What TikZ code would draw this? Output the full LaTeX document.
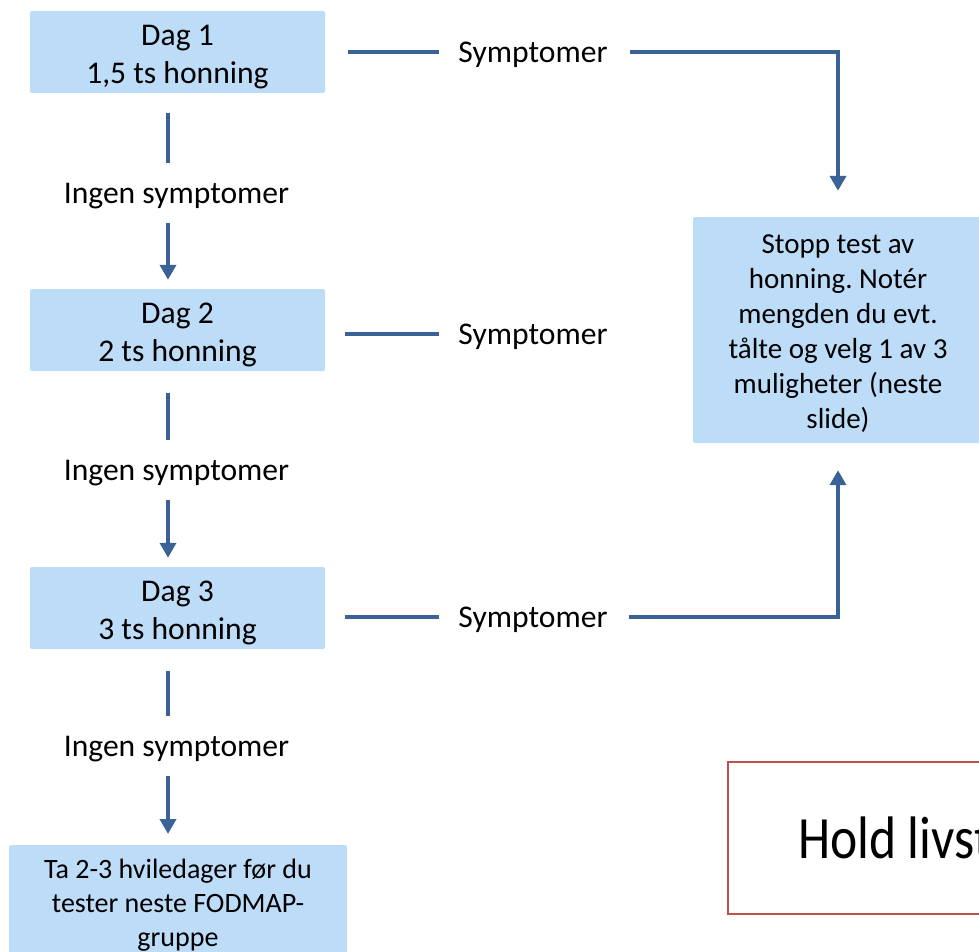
\documentclass[tikz,border=0pt]{standalone}
\usepackage{fontspec}
\setmainfont{Carlito}
\usetikzlibrary{arrows.meta, positioning}
\definecolor{flow}{RGB}{58,98,150}
\definecolor{boxfill}{RGB}{189,220,248}
\definecolor{warn}{RGB}{192,80,77}
\newcommand{\topstrut}[1]{\rule{0pt}{#1}}
\frenchspacing

\begin{document}
\begin{tikzpicture}[x=1pt, y=-1pt,
    daybox/.style={fill=boxfill, rounded corners=2pt, minimum width=295pt, minimum height=82pt,
      align=center, inner sep=0pt, font=\fontsize{31.6}{37.7}\selectfont},
    lbl/.style={font=\fontsize{31.6}{37}\selectfont, inner xsep=19pt, inner ysep=0pt, minimum height=60pt,
      text height=27.5pt, text depth=6.5pt},
    conn/.style={draw=flow, line width=4pt},
    arr/.style={conn, -{Triangle[width=16pt, length=15pt]}}]
    \useasboundingbox (0,0) rectangle (979,952);
    % day boxes, left column
    \node[daybox] (dag1) at (177.5,52)  {\topstrut{30pt}Dag 1\\1,5 ts honning};
    \node[daybox] (dag2) at (177.5,330) {\topstrut{30pt}Dag 2\\2 ts honning};
    \node[daybox] (dag3) at (177.5,608) {\topstrut{30pt}Dag 3\\3 ts honning};
    \node[fill=boxfill, rounded corners=2pt, anchor=north, minimum width=338pt, align=center,
      inner xsep=0pt, inner ysep=14pt, font=\fontsize{28}{34}\selectfont] (pause) at (178,845)
      {Ta 2-3 hviledager før du\\tester neste FODMAP-\\gruppe};
    \coordinate (col) at (168,0);
    \node[lbl] (ingen1) at (176.5,193) {Ingen symptomer};
    \node[lbl] (ingen2) at (176.5,470) {Ingen symptomer};
    \node[lbl] (ingen3) at (176.5,746) {Ingen symptomer};
    \draw[conn, shorten <=20pt] (dag1.south -| col) -- (ingen1.north -| col);
    \draw[arr, shorten >=9pt] (ingen1.south -| col) -- (dag2.north -| col);
    \draw[conn, shorten <=22pt] (dag2.south -| col) -- (ingen2.north -| col);
    \draw[arr, shorten >=9pt] (ingen2.south -| col) -- (dag3.north -| col);
    \draw[conn, shorten <=22pt] (dag3.south -| col) -- (ingen3.north -| col);
    \draw[arr, shorten >=11pt] (ingen3.south -| col) -- (pause.north -| col);
    % symptoms, right side
    \node[lbl] (sym1) at (533,52)  {Symptomer};
    \node[lbl] (sym2) at (533,334) {Symptomer};
    \node[lbl] (sym3) at (533,617) {Symptomer};
    \node[fill=boxfill, rounded corners=2pt, minimum width=290pt, minimum height=226pt, align=center,
      inner sep=0pt, font=\fontsize{29}{35}\selectfont] (stopp) at (838,330)
      {\topstrut{26.5pt}Stopp test av\\honning. Notér\\mengden du evt.\\tålte og velg 1 av 3\\muligheter (neste\\slide)};
    \draw[conn, shorten <=23pt] (dag1.east |- sym1) -- (sym1.west);
    \draw[conn, shorten <=20pt] (dag2.east |- sym2) -- (sym2.west);
    \draw[conn, shorten <=20pt] (dag3.east |- sym3) -- (sym3.west);
    \draw[arr, shorten <=3pt, shorten >=26pt] (sym1.east) -| (stopp.north);
    \draw[arr, shorten <=2pt, shorten >=27pt] (sym3.east) -| (stopp.south);
    % note box, cut at the page edge
    \node[draw=warn, line width=2pt, anchor=west, minimum height=152pt,
      inner xsep=70pt, font=\fontsize{60}{70}\selectfont] (hold) at (727,838) {\scalebox{0.86}[1]{Hold livst}};
\end{tikzpicture}
\end{document}
